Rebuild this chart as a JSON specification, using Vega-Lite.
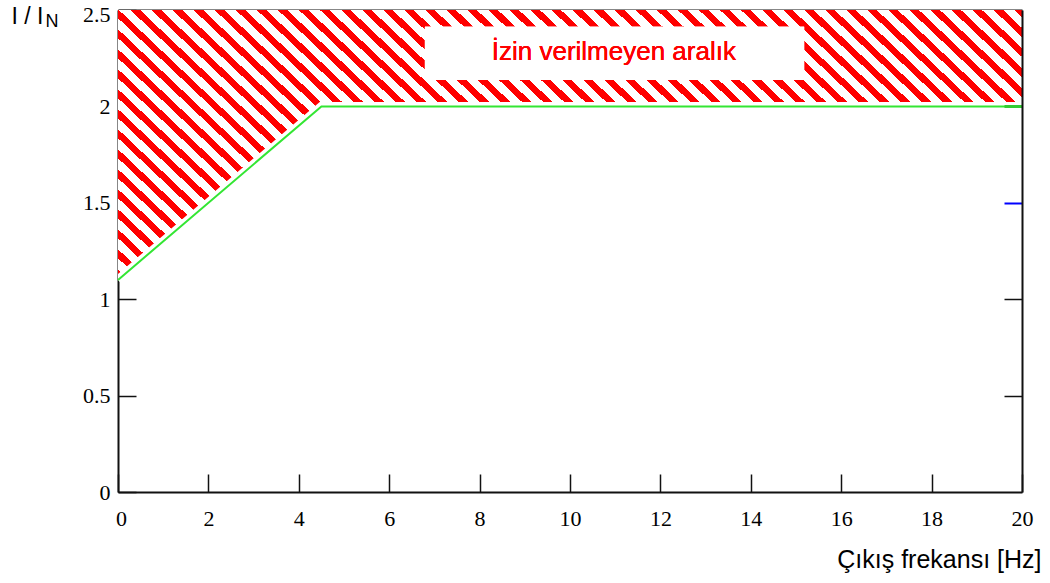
{
"$schema":"https://vega.github.io/schema/vega-lite/v6.json",
"width":904,"height":482,
"autosize":{"type":"none"},
"padding":{"left":118,"top":10,"right":28,"bottom":91},
"background":"#ffffff",
"config":{"view":{"stroke":null},"axis":{"grid":false,"labelFlush":false,"tickSize":-18,"tickColor":"#111111","tickWidth":1.5,"domainColor":"#111111","domainWidth":2,"labelFont":"Liberation Serif","labelFontSize":22,"labelColor":"#000000","titleFont":"Liberation Sans","titleFontWeight":"normal","titleColor":"#000000"}},
"data":{"values":[{"f":0,"i":1.1},{"f":4.5,"i":2},{"f":20,"i":2}]},
"layer":[
{"mark":{"type":"area","clip":true,"fill":{"gradient":"linear","x1":1,"y1":0,"x2":-0.1961,"y2":0.3759,"stops":[
{"offset":0,"color":"#f00"},
{"offset":0.0062,"color":"#f00"},{"offset":0.0062,"color":"#fff"},{"offset":0.0159,"color":"#fff"},{"offset":0.0159,"color":"#f00"},
{"offset":0.0239,"color":"#f00"},{"offset":0.0239,"color":"#fff"},{"offset":0.0337,"color":"#fff"},{"offset":0.0337,"color":"#f00"},
{"offset":0.0416,"color":"#f00"},{"offset":0.0416,"color":"#fff"},{"offset":0.0514,"color":"#fff"},{"offset":0.0514,"color":"#f00"},
{"offset":0.0594,"color":"#f00"},{"offset":0.0594,"color":"#fff"},{"offset":0.0691,"color":"#fff"},{"offset":0.0691,"color":"#f00"},
{"offset":0.0771,"color":"#f00"},{"offset":0.0771,"color":"#fff"},{"offset":0.0868,"color":"#fff"},{"offset":0.0868,"color":"#f00"},
{"offset":0.0948,"color":"#f00"},{"offset":0.0948,"color":"#fff"},{"offset":0.1046,"color":"#fff"},{"offset":0.1046,"color":"#f00"},
{"offset":0.1125,"color":"#f00"},{"offset":0.1125,"color":"#fff"},{"offset":0.1223,"color":"#fff"},{"offset":0.1223,"color":"#f00"},
{"offset":0.1302,"color":"#f00"},{"offset":0.1302,"color":"#fff"},{"offset":0.1400,"color":"#fff"},{"offset":0.1400,"color":"#f00"},
{"offset":0.1480,"color":"#f00"},{"offset":0.1480,"color":"#fff"},{"offset":0.1577,"color":"#fff"},{"offset":0.1577,"color":"#f00"},
{"offset":0.1657,"color":"#f00"},{"offset":0.1657,"color":"#fff"},{"offset":0.1754,"color":"#fff"},{"offset":0.1754,"color":"#f00"},
{"offset":0.1834,"color":"#f00"},{"offset":0.1834,"color":"#fff"},{"offset":0.1931,"color":"#fff"},{"offset":0.1931,"color":"#f00"},
{"offset":0.2011,"color":"#f00"},{"offset":0.2011,"color":"#fff"},{"offset":0.2109,"color":"#fff"},{"offset":0.2109,"color":"#f00"},
{"offset":0.2188,"color":"#f00"},{"offset":0.2188,"color":"#fff"},{"offset":0.2286,"color":"#fff"},{"offset":0.2286,"color":"#f00"},
{"offset":0.2366,"color":"#f00"},{"offset":0.2366,"color":"#fff"},{"offset":0.2463,"color":"#fff"},{"offset":0.2463,"color":"#f00"},
{"offset":0.2543,"color":"#f00"},{"offset":0.2543,"color":"#fff"},{"offset":0.2640,"color":"#fff"},{"offset":0.2640,"color":"#f00"},
{"offset":0.2720,"color":"#f00"},{"offset":0.2720,"color":"#fff"},{"offset":0.2817,"color":"#fff"},{"offset":0.2817,"color":"#f00"},
{"offset":0.2897,"color":"#f00"},{"offset":0.2897,"color":"#fff"},{"offset":0.2995,"color":"#fff"},{"offset":0.2995,"color":"#f00"},
{"offset":0.3074,"color":"#f00"},{"offset":0.3074,"color":"#fff"},{"offset":0.3172,"color":"#fff"},{"offset":0.3172,"color":"#f00"},
{"offset":0.3251,"color":"#f00"},{"offset":0.3251,"color":"#fff"},{"offset":0.3349,"color":"#fff"},{"offset":0.3349,"color":"#f00"},
{"offset":0.3429,"color":"#f00"},{"offset":0.3429,"color":"#fff"},{"offset":0.3526,"color":"#fff"},{"offset":0.3526,"color":"#f00"},
{"offset":0.3606,"color":"#f00"},{"offset":0.3606,"color":"#fff"},{"offset":0.3703,"color":"#fff"},{"offset":0.3703,"color":"#f00"},
{"offset":0.3783,"color":"#f00"},{"offset":0.3783,"color":"#fff"},{"offset":0.3881,"color":"#fff"},{"offset":0.3881,"color":"#f00"},
{"offset":0.3960,"color":"#f00"},{"offset":0.3960,"color":"#fff"},{"offset":0.4058,"color":"#fff"},{"offset":0.4058,"color":"#f00"},
{"offset":0.4137,"color":"#f00"},{"offset":0.4137,"color":"#fff"},{"offset":0.4235,"color":"#fff"},{"offset":0.4235,"color":"#f00"},
{"offset":0.4315,"color":"#f00"},{"offset":0.4315,"color":"#fff"},{"offset":0.4412,"color":"#fff"},{"offset":0.4412,"color":"#f00"},
{"offset":0.4492,"color":"#f00"},{"offset":0.4492,"color":"#fff"},{"offset":0.4589,"color":"#fff"},{"offset":0.4589,"color":"#f00"},
{"offset":0.4669,"color":"#f00"},{"offset":0.4669,"color":"#fff"},{"offset":0.4766,"color":"#fff"},{"offset":0.4766,"color":"#f00"},
{"offset":0.4846,"color":"#f00"},{"offset":0.4846,"color":"#fff"},{"offset":0.4944,"color":"#fff"},{"offset":0.4944,"color":"#f00"},
{"offset":0.5023,"color":"#f00"},{"offset":0.5023,"color":"#fff"},{"offset":0.5121,"color":"#fff"},{"offset":0.5121,"color":"#f00"},
{"offset":0.5201,"color":"#f00"},{"offset":0.5201,"color":"#fff"},{"offset":0.5298,"color":"#fff"},{"offset":0.5298,"color":"#f00"},
{"offset":0.5378,"color":"#f00"},{"offset":0.5378,"color":"#fff"},{"offset":0.5475,"color":"#fff"},{"offset":0.5475,"color":"#f00"},
{"offset":0.5555,"color":"#f00"},{"offset":0.5555,"color":"#fff"},{"offset":0.5652,"color":"#fff"},{"offset":0.5652,"color":"#f00"},
{"offset":0.5732,"color":"#f00"},{"offset":0.5732,"color":"#fff"},{"offset":0.5830,"color":"#fff"},{"offset":0.5830,"color":"#f00"},
{"offset":0.5909,"color":"#f00"},{"offset":0.5909,"color":"#fff"},{"offset":0.6007,"color":"#fff"},{"offset":0.6007,"color":"#f00"},
{"offset":0.6087,"color":"#f00"},{"offset":0.6087,"color":"#fff"},{"offset":0.6184,"color":"#fff"},{"offset":0.6184,"color":"#f00"},
{"offset":0.6264,"color":"#f00"},{"offset":0.6264,"color":"#fff"},{"offset":0.6361,"color":"#fff"},{"offset":0.6361,"color":"#f00"},
{"offset":0.6441,"color":"#f00"},{"offset":0.6441,"color":"#fff"},{"offset":0.6538,"color":"#fff"},{"offset":0.6538,"color":"#f00"},
{"offset":0.6618,"color":"#f00"},{"offset":0.6618,"color":"#fff"},{"offset":0.6716,"color":"#fff"},{"offset":0.6716,"color":"#f00"},
{"offset":0.6795,"color":"#f00"},{"offset":0.6795,"color":"#fff"},{"offset":0.6893,"color":"#fff"},{"offset":0.6893,"color":"#f00"},
{"offset":0.6973,"color":"#f00"},{"offset":0.6973,"color":"#fff"},{"offset":0.7070,"color":"#fff"},{"offset":0.7070,"color":"#f00"},
{"offset":0.7150,"color":"#f00"},{"offset":0.7150,"color":"#fff"},{"offset":0.7247,"color":"#fff"},{"offset":0.7247,"color":"#f00"},
{"offset":0.7327,"color":"#f00"},{"offset":0.7327,"color":"#fff"},{"offset":0.7424,"color":"#fff"},{"offset":0.7424,"color":"#f00"},
{"offset":0.7504,"color":"#f00"},{"offset":0.7504,"color":"#fff"},{"offset":0.7602,"color":"#fff"},{"offset":0.7602,"color":"#f00"},
{"offset":0.7681,"color":"#f00"},{"offset":0.7681,"color":"#fff"},{"offset":0.7779,"color":"#fff"},{"offset":0.7779,"color":"#f00"},
{"offset":0.7858,"color":"#f00"},{"offset":0.7858,"color":"#fff"},{"offset":0.7956,"color":"#fff"},{"offset":0.7956,"color":"#f00"},
{"offset":0.8036,"color":"#f00"},{"offset":0.8036,"color":"#fff"},{"offset":0.8133,"color":"#fff"},{"offset":0.8133,"color":"#f00"},
{"offset":0.8213,"color":"#f00"},{"offset":0.8213,"color":"#fff"},{"offset":0.8310,"color":"#fff"},{"offset":0.8310,"color":"#f00"},
{"offset":0.8390,"color":"#f00"},{"offset":0.8390,"color":"#fff"},{"offset":0.8487,"color":"#fff"},{"offset":0.8487,"color":"#f00"},
{"offset":0.8567,"color":"#f00"},{"offset":0.8567,"color":"#fff"},{"offset":0.8665,"color":"#fff"},{"offset":0.8665,"color":"#f00"},
{"offset":0.8744,"color":"#f00"},{"offset":0.8744,"color":"#fff"},{"offset":0.8842,"color":"#fff"},{"offset":0.8842,"color":"#f00"},
{"offset":0.8922,"color":"#f00"},{"offset":0.8922,"color":"#fff"},{"offset":0.9019,"color":"#fff"},{"offset":0.9019,"color":"#f00"},
{"offset":0.9099,"color":"#f00"},{"offset":0.9099,"color":"#fff"},{"offset":0.9196,"color":"#fff"},{"offset":0.9196,"color":"#f00"},
{"offset":0.9276,"color":"#f00"},{"offset":0.9276,"color":"#fff"},{"offset":0.9373,"color":"#fff"},{"offset":0.9373,"color":"#f00"},
{"offset":0.9453,"color":"#f00"},{"offset":0.9453,"color":"#fff"},{"offset":0.9551,"color":"#fff"},{"offset":0.9551,"color":"#f00"},
{"offset":0.9630,"color":"#f00"},{"offset":0.9630,"color":"#fff"},{"offset":0.9728,"color":"#fff"},{"offset":0.9728,"color":"#f00"},
{"offset":0.9808,"color":"#f00"},{"offset":0.9808,"color":"#fff"},{"offset":0.9905,"color":"#fff"},{"offset":0.9905,"color":"#f00"},
{"offset":0.9985,"color":"#f00"},{"offset":0.9985,"color":"#fff"},{"offset":1,"color":"#fff"}
]}},
"encoding":{
"x":{"field":"f","type":"quantitative","scale":{"domain":[0,20],"nice":false},"axis":{"orient":"bottom","values":[0,2,4,6,8,10,12,14,16,18,20],"format":"d","labelPadding":34,"labelFlush":false,"labelOffset":{"condition":{"test":"datum.value == 0","value":3},"value":0},"title":"Çıkış frekansı [Hz]","titleFontSize":25,"titleAlign":"right","titleBaseline":"alphabetic","titleX":923,"titleY":75,"zindex":0}},
"y":{"field":"i","type":"quantitative","scale":{"domain":[0,2.5],"nice":false,"zero":true},"axis":{"orient":"left","values":[0,0.5,1,1.5,2,2.5],"format":"~g","labelPadding":26,"labelFlush":false,"labelOffset":{"condition":{"test":"datum.value == 2.5","value":4},"value":0},"title":"I / I","titleFontSize":23,"titleAngle":0,"titleAlign":"left","titleBaseline":"alphabetic","titleX":-107,"titleY":13,"zindex":0}},
"y2":{"datum":2.5}
}},
{"mark":{"type":"line","clip":true,"stroke":"#ffffff","strokeWidth":9,"strokeCap":"butt"},
"encoding":{
"x":{"field":"f","type":"quantitative","axis":{"orient":"top","values":[2,4,6,8,10,12,14,16,18],"labels":false,"title":null,"zindex":0}},
"y":{"field":"i","type":"quantitative","axis":{"orient":"right","values":[0.5,1,1.5,2],"labels":false,"title":"N","titleFontSize":18,"titleAngle":0,"titleAlign":"left","titleBaseline":"alphabetic","titleX":-977,"titleY":16,"zindex":1,
"tickColor":{"condition":[{"test":"datum.value == 1.5","value":"#0000ff"},{"test":"datum.value == 2","value":"#33cc33"}],"value":"#111111"},
"tickWidth":{"condition":[{"test":"datum.value == 2","value":3},{"test":"datum.value == 1.5","value":2}],"value":1.5}}}
}},
{"mark":{"type":"line","stroke":"#33e633","strokeWidth":2},
"encoding":{"x":{"field":"f","type":"quantitative","axis":null},"y":{"field":"i","type":"quantitative","axis":null}}},
{"mark":{"type":"rect","fill":"#ffffff"},
"encoding":{"x":{"datum":6.79,"type":"quantitative","axis":null},"x2":{"datum":15.18},"y":{"datum":2.137,"type":"quantitative","axis":null},"y2":{"datum":2.413}}},
{"mark":{"type":"text","text":"İzin verilmeyen aralık","font":"Liberation Sans","fontSize":26,"color":"#ff0000","align":"center","baseline":"alphabetic"},
"encoding":{"x":{"datum":10.97,"type":"quantitative","axis":null},"y":{"datum":2.2407,"type":"quantitative","axis":null}}}
],
"resolve":{"axis":{"x":"independent","y":"independent"}}
}
